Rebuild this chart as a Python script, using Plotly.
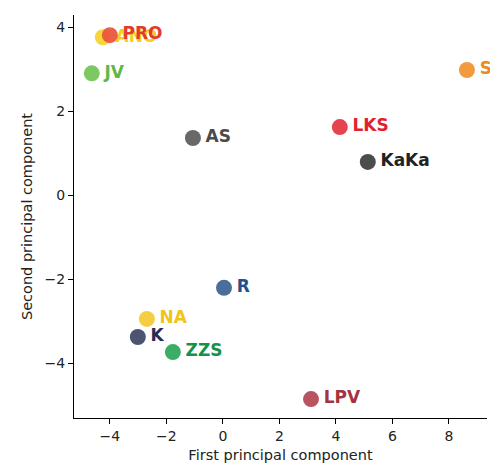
import plotly.graph_objects as go

labels = ["ANO", "PRO", "JV", "AS", "SNS", "LKS", "KaKa", "R", "NA", "K", "ZZS", "LPV"]
pc1 = [-4.25, -4.0, -4.64, -1.06, 8.64, 4.14, 5.13, 0.04, -2.69, -3.01, -1.77, 3.12]
pc2 = [3.76, 3.81, 2.90, 1.36, 2.98, 1.62, 0.79, -2.21, -2.95, -3.38, -3.74, -4.86]
marker_colors = ["#f5d327", "#e8533b", "#72c356", "#5b5b5b", "#f0922e", "#e3343f",
                 "#3d3d3d", "#3b6192", "#f3c932", "#3d4566", "#2aa65a", "#b24452"]
text_colors = ["#f2cf1c", "#e23b2e", "#63b845", "#4a4a4a", "#ec8a1e", "#de2230",
               "#222222", "#24518a", "#f0c419", "#272d52", "#129347", "#a5323f"]

fig = go.Figure()
for name, x, y, mc, tc in zip(labels, pc1, pc2, marker_colors, text_colors):
    fig.add_trace(go.Scatter(
        x=[x], y=[y], mode="markers+text", text=["\u200a" + name],
        textposition="middle right",
        marker=dict(size=16, color=mc, opacity=0.92, line=dict(width=0)),
        textfont=dict(family="DejaVu Sans", size=17, color=tc, weight="bold"),
        cliponaxis=False, showlegend=False, hoverinfo="skip",
    ))

axis_common = dict(
    showgrid=False, zeroline=False, showline=True, linecolor="black", linewidth=1.2,
    ticks="outside", ticklen=5, tickcolor="black", tickwidth=1,
    tickfont=dict(family="DejaVu Sans", size=14, color="#222"),
    mirror=False,
)
fig.update_xaxes(range=[-5.27, 9.35], tickvals=[-4, -2, 0, 2, 4, 6, 8],
                 ticktext=["\u22124", "\u22122", "0", "2", "4", "6", "8"],
                 title=dict(text="First principal component", standoff=6,
                            font=dict(family="DejaVu Sans", size=14.5, color="#222")),
                 **axis_common)
fig.update_yaxes(range=[-5.31, 4.29], tickvals=[-4, -2, 0, 2, 4],
                 ticktext=["\u22124", "\u22122", "0", "2", "4"],
                 title=dict(text="Second principal component", standoff=8,
                            font=dict(family="DejaVu Sans", size=14.5, color="#222")),
                 **axis_common)
fig.update_layout(
    width=498, height=469, margin=dict(l=66, r=19, t=7, b=59),
    plot_bgcolor="white", paper_bgcolor="white",
)
fig.write_html("out.html")
